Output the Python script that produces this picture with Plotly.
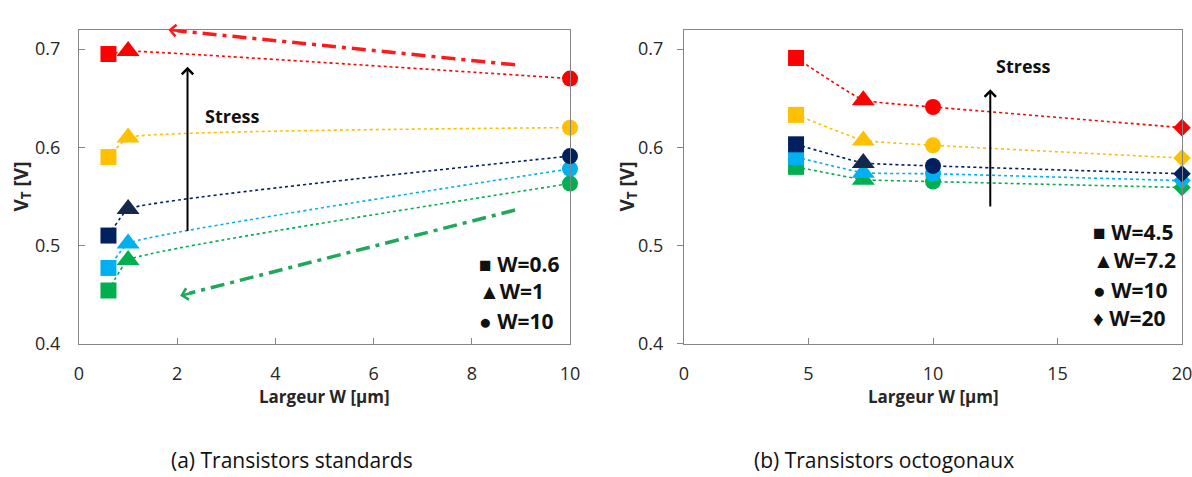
import plotly.graph_objects as go

# ---------------- data ----------------
series_names = ["green", "lightblue", "navy", "yellow", "red"]
series_colors = ["#00B050", "#00B0F0", "#002060", "#FFC000", "#FF0000"]
triangle_colors = ["#00B050", "#00B0F0", "#14284B", "#FFC000", "#FF0000"]

# (a) standard transistors
std_w = [0.6, 1, 10]
std_symbols = ["square", "triangle-up", "circle"]
std_vt = {
    "green":     [0.454, 0.485, 0.563],
    "lightblue": [0.477, 0.502, 0.578],
    "navy":      [0.510, 0.537, 0.591],
    "yellow":    [0.590, 0.610, 0.620],
    "red":       [0.695, 0.698, 0.670],
}

# (b) octagonal transistors
oct_w = [4.5, 7.2, 10, 20]
oct_symbols = ["square", "triangle-up", "circle", "diamond"]
oct_vt = {
    "green":     [0.580, 0.567, 0.565, 0.559],
    "lightblue": [0.590, 0.574, 0.573, 0.566],
    "navy":      [0.603, 0.584, 0.581, 0.573],
    "yellow":    [0.633, 0.607, 0.602, 0.589],
    "red":       [0.691, 0.648, 0.641, 0.620],
}

ytick_vals = [0.4, 0.5, 0.6, 0.7]
ytick_text = ["0.4", "0.5", "0.6", "0.7"]
std_xticks = [0, 2, 4, 6, 8, 10]
oct_xticks = [0, 5, 10, 15, 20]

legend_std = ["■ W=0.6", "▲W=1", "● W=10"]
legend_std_y = [0.481, 0.454, 0.423]
legend_oct = ["■ W=4.5", "▲W=7.2", "● W=10", "♦ W=20"]
legend_oct_y = [0.514, 0.485, 0.455, 0.426]

FONT = "Open Sans"
size_map = {"square": 16, "triangle-up": 20, "circle": 16, "diamond": 13.5}

W, H = 1192, 477


def px(xp):
    return xp / W


def py(yp):
    return 1 - yp / H


fig = go.Figure()


def add_series(xs, symbols, data, xa, ya):
    for name, col, tcol in zip(series_names, series_colors, triangle_colors):
        cols = [tcol if s == "triangle-up" else col for s in symbols]
        fig.add_trace(go.Scatter(
            x=xs, y=data[name], xaxis=xa, yaxis=ya,
            mode="lines+markers", cliponaxis=False,
            line=dict(color=col, width=1.6, dash="dot", shape="spline", smoothing=0.3),
            marker=dict(symbol=symbols, color=cols, opacity=1,
                        size=[size_map[s] for s in symbols],
                        line=dict(width=0)),
            showlegend=False, hoverinfo="skip",
        ))


add_series(std_w, std_symbols, std_vt, "x", "y")
add_series(oct_w, oct_symbols, oct_vt, "x2", "y2")

axis_common = dict(showline=True, linecolor="#868686", linewidth=1, mirror=True,
                   showgrid=False, zeroline=False, ticklen=6, tickcolor="#868686",
                   tickfont=dict(family=FONT, size=18, color="#262626"))

ydom = [py(343.5), py(29.5)]
fig.update_layout(
    width=W, height=H,
    margin=dict(l=0, r=0, t=0, b=0, autoexpand=False),
    paper_bgcolor="white", plot_bgcolor="white",
    xaxis=dict(domain=[px(79), px(570)], range=[0, 10], tickvals=std_xticks,
               ticks="inside", anchor="y", ticklabelstandoff=14, **axis_common),
    yaxis=dict(domain=ydom, range=[0.4, 0.72], tickvals=ytick_vals,
               ticktext=ytick_text, ticks="inside", anchor="x",
               ticklabelstandoff=14, **axis_common),
    xaxis2=dict(domain=[px(684), px(1182)], range=[0, 20], tickvals=oct_xticks,
                ticks="inside", anchor="y2", ticklabelstandoff=14,
                ticklabeloverflow="allow", **axis_common),
    yaxis2=dict(domain=ydom, range=[0.4, 0.72], tickvals=ytick_vals,
                ticktext=ytick_text, ticks="outside", anchor="x2",
                ticklabelstandoff=10, **axis_common),
)

# dash-dot arrows (left panel)
fig.add_shape(type="line", xref="x", yref="y", x0=8.88, y0=0.684, x1=2.0, y1=0.7188,
              line=dict(color="#FF1A1A", width=3.5, dash="14px,6px,4px,6px"))
fig.add_annotation(xref="x", yref="y", axref="x", ayref="y", x=1.82, y=0.7197,
                   ax=2.1, ay=0.7183, text="", showarrow=True, arrowhead=4,
                   arrowsize=0.9, arrowwidth=2.5, arrowcolor="#FF1A1A")
fig.add_shape(type="line", xref="x", yref="y", x0=8.88, y0=0.536, x1=2.25, y1=0.4512,
              line=dict(color="#1EA85A", width=3.5, dash="14px,6px,4px,6px"))
fig.add_annotation(xref="x", yref="y", axref="x", ayref="y", x=2.06, y=0.4486,
                   ax=2.35, ay=0.4523, text="", showarrow=True, arrowhead=4,
                   arrowsize=0.9, arrowwidth=2.5, arrowcolor="#1EA85A")

# black stress arrows
fig.add_annotation(xref="x", yref="y", axref="x", ayref="y", x=2.21, y=0.682,
                   ax=2.21, ay=0.513, text="", showarrow=True, arrowhead=4,
                   arrowsize=1.1, arrowwidth=2, arrowcolor="black")
fig.add_annotation(xref="x2", yref="y2", axref="x2", ayref="y2", x=12.3, y=0.659,
                   ax=12.3, ay=0.538, text="", showarrow=True, arrowhead=4,
                   arrowsize=1.1, arrowwidth=2, arrowcolor="black")
fig.add_annotation(xref="x", yref="y", x=3.11, y=0.632, text="<b>Stress</b>",
                   xanchor="center", yanchor="middle",
                   showarrow=False, font=dict(family=FONT, size=18, color="#111"))
fig.add_annotation(xref="x2", yref="y2", x=13.6, y=0.683, text="<b>Stress</b>",
                   xanchor="center", yanchor="middle",
                   showarrow=False, font=dict(family=FONT, size=18, color="#111"))

# legends as text
for t, yv in zip(legend_std, legend_std_y):
    fig.add_annotation(xref="x", yref="y", x=8.1, y=yv, text="<b>" + t + "</b>",
                       xanchor="left", yanchor="middle", showarrow=False,
                       font=dict(family=FONT, size=21, color="#111"))
for t, yv in zip(legend_oct, legend_oct_y):
    fig.add_annotation(xref="x2", yref="y2", x=16.35, y=yv, text="<b>" + t + "</b>",
                       xanchor="left", yanchor="middle", showarrow=False,
                       font=dict(family=FONT, size=21, color="#111"))

# axis titles
for xc in [324.5, 933.5]:
    fig.add_annotation(xref="paper", yref="paper", x=px(xc), y=py(396),
                       xanchor="center", yanchor="middle",
                       text="<b>Largeur W [µm]</b>", showarrow=False,
                       font=dict(family=FONT, size=17, color="#262626"))
for xc in [21, 627]:
    fig.add_annotation(xref="paper", yref="paper", x=px(xc), y=py(186.5),
                       xanchor="center", yanchor="middle",
                       text="<b>V<sub>T</sub> [V]</b>", textangle=-90, showarrow=False,
                       font=dict(family=FONT, size=19, color="#262626"))

# captions
fig.add_annotation(xref="paper", yref="paper", x=px(291.5), y=py(460),
                   xanchor="center", yanchor="middle",
                   text="(a) Transistors standards", showarrow=False,
                   font=dict(family=FONT, size=21, color="#111"))
fig.add_annotation(xref="paper", yref="paper", x=px(884), y=py(460),
                   xanchor="center", yanchor="middle",
                   text="(b) Transistors octogonaux", showarrow=False,
                   font=dict(family=FONT, size=21, color="#111"))

# remove the browser's default 8px body margin so the figure fills the window
fig.write_html("out.html", config={"displayModeBar": False},
               post_script="document.body.style.margin='0px';")
